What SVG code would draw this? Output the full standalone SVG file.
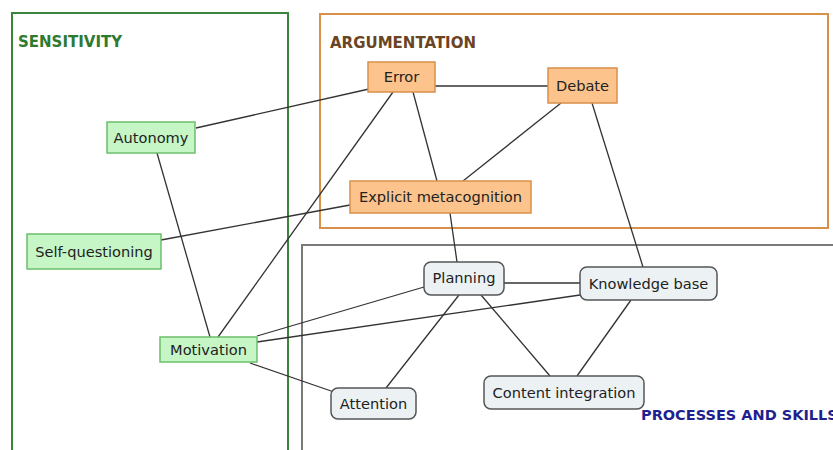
<svg xmlns="http://www.w3.org/2000/svg" width="833" height="450" viewBox="0 0 833 450">
<style>
.hdr{font-family:"DejaVu Sans",Verdana,sans-serif;font-weight:bold;font-size:15px}
.lbl{font-family:"DejaVu Sans",Verdana,sans-serif;font-size:14.6px;fill:#222;text-anchor:middle}
.g{fill:#c6f5c6;stroke:#6cbf6c;stroke-width:1.5}
.o{fill:#fcc48c;stroke:#d9904a;stroke-width:1.5}
.p{fill:#ecf1f4;stroke:#555;stroke-width:1.5}
.c line{stroke:#333;stroke-width:1.3}
</style>
<rect width="833" height="450" fill="#fff"/>
<g id="areas">
<rect x="12" y="13" width="276" height="460" fill="none" stroke="#3a853a" stroke-width="2"/>
<rect x="320" y="14" width="508" height="214" fill="none" stroke="#d9904a" stroke-width="2"/>
<rect x="302" y="245" width="560" height="230" fill="none" stroke="#7a7a7a" stroke-width="2"/>
<text class="hdr" x="18" y="47" fill="#2f7a2f">SENSITIVITY</text>
<text class="hdr" x="330" y="48" fill="#6b4423">ARGUMENTATION</text>
<text class="hdr" x="641" y="420" fill="#1f1f8f" style="font-size:14.5px">PROCESSES AND SKILLS</text>
</g>
<g id="connectors" class="c">
<line x1="196" y1="128" x2="369" y2="89"/>
<line x1="157" y1="153" x2="210" y2="337"/>
<line x1="161" y1="240" x2="350" y2="205"/>
<line x1="218" y1="337" x2="393" y2="92"/>
<line x1="413" y1="92" x2="437" y2="181"/>
<line x1="450" y1="213" x2="457" y2="262"/>
<line x1="434" y1="86" x2="548" y2="86"/>
<line x1="561" y1="103" x2="463" y2="181"/>
<line x1="592" y1="103" x2="643" y2="267"/>
<line x1="504" y1="283" x2="580" y2="283"/>
<line x1="257" y1="336" x2="424" y2="287"/>
<line x1="257" y1="342" x2="580" y2="295"/>
<line x1="250" y1="363" x2="334" y2="392"/>
<line x1="459" y1="295" x2="386" y2="388"/>
<line x1="481" y1="295" x2="550" y2="376"/>
<line x1="631" y1="300" x2="577" y2="376"/>
</g>
<g id="autonomy"><rect class="g" x="107" y="122" width="88" height="31"/><text class="lbl" x="151" y="142.5">Autonomy</text></g>
<g id="self-questioning"><rect class="g" x="27" y="234" width="134" height="35"/><text class="lbl" x="94" y="256.5">Self-questioning</text></g>
<g id="motivation"><rect class="g" x="160" y="337" width="97" height="25"/><text class="lbl" x="208.5" y="354.5">Motivation</text></g>
<g id="error"><rect class="o" x="368" y="62" width="67" height="30"/><text class="lbl" x="401.5" y="82">Error</text></g>
<g id="debate"><rect class="o" x="548" y="68" width="69" height="35"/><text class="lbl" x="582.5" y="90.5">Debate</text></g>
<g id="explicit-metacognition"><rect class="o" x="350" y="181" width="181" height="32"/><text class="lbl" x="440.5" y="202">Explicit metacognition</text></g>
<g id="planning"><rect class="p" x="424" y="262" width="80" height="33" rx="7"/><text class="lbl" x="464" y="283">Planning</text></g>
<g id="knowledge-base"><rect class="p" x="580" y="267" width="137" height="33" rx="7"/><text class="lbl" x="648.5" y="288.5">Knowledge base</text></g>
<g id="attention"><rect class="p" x="331" y="388" width="85" height="31" rx="7"/><text class="lbl" x="373.5" y="408.5">Attention</text></g>
<g id="content-integration"><rect class="p" x="484" y="376" width="160" height="33" rx="7"/><text class="lbl" x="564" y="397.5">Content integration</text></g>
</svg>
